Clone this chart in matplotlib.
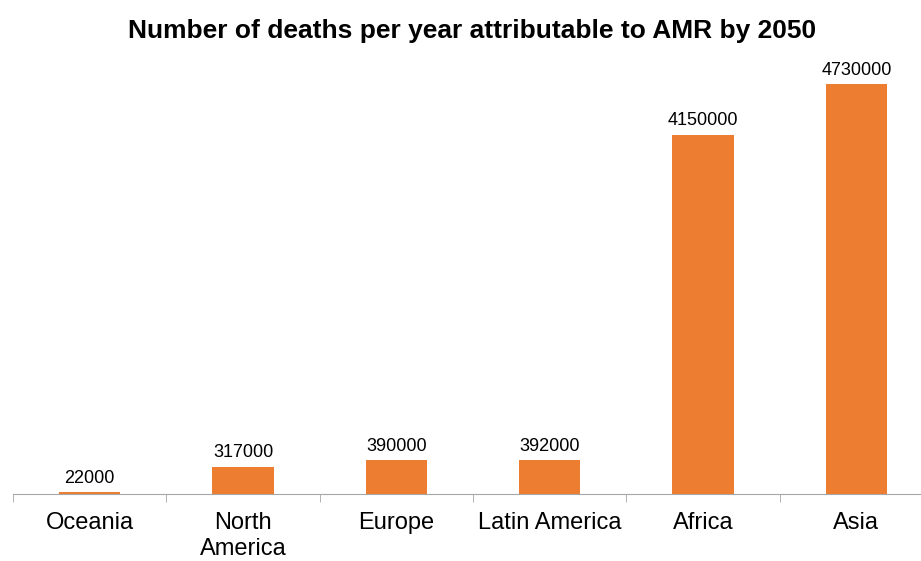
import matplotlib
matplotlib.use("Agg")
import matplotlib.pyplot as plt
import numpy as np

regions = ["Oceania", "North\nAmerica", "Europe", "Latin America", "Africa", "Asia"]
deaths = [22000, 317000, 390000, 392000, 4150000, 4730000]

plt.rcParams['font.family'] = ['Liberation Sans', 'DejaVu Sans']

fig = plt.figure(figsize=(9.21, 5.61), dpi=100)
ax = fig.add_axes([13 / 921, 67 / 561, 920 / 921, 433 / 561])

x = np.arange(len(regions))
ax.bar(x, deaths, width=0.4, color="#ED7D31")
for xi, v in zip(x, deaths):
    ax.text(xi, v + 60000, str(v), ha="center", va="bottom", fontsize=13)

ax.set_xlim(-0.5, len(regions) - 0.5)
ax.set_ylim(0, 5000000)
ax.set_yticks([])
for s in ["top", "right", "left"]:
    ax.spines[s].set_visible(False)
ax.spines["bottom"].set_color("#a6a6a6")

ax.set_xticks(x)
ax.set_xticklabels(regions, fontsize=17, va="top", linespacing=1.25)
ax.tick_params(axis="x", which="major", length=0, pad=13)
ax.set_xticks(np.arange(-0.5, len(regions)), minor=True)
ax.tick_params(axis="x", which="minor", length=6, color="#a6a6a6")

fig.text(472 / 921, 1 - 31 / 561, "Number of deaths per year attributable to AMR by 2050",
         ha="center", va="center", fontsize=19, fontweight="bold")

fig.savefig("out.png", dpi=100)
